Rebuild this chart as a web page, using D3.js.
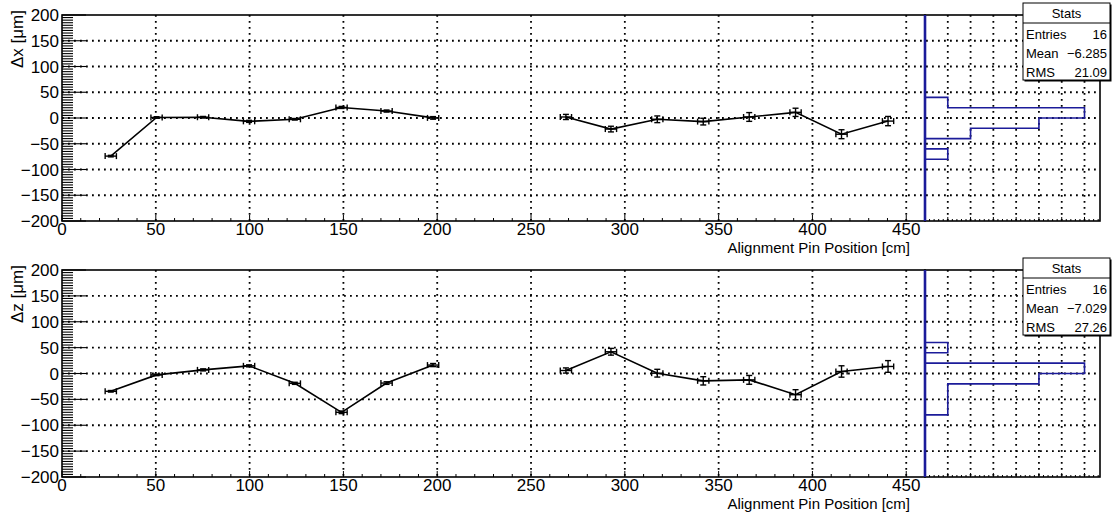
<!DOCTYPE html>
<html>
<head>
<meta charset="utf-8">
<script src="https://cdn.jsdelivr.net/npm/d3@7"></script>
<style>
  body { margin: 0; background: #fff; }
  svg text { font-family: "Liberation Sans", Arial, sans-serif; }
</style>
</head>
<body>
<div class="canvas"></div>
<script>
"use strict";

// donnees
var pinPos = [26, 50.4, 75.2, 99.7, 124.1, 149, 173, 197.8, 268.6, 292.6, 317.3, 341.8, 366.3, 391, 415.5, 440.3];
var pinErr = [3, 3, 3, 3, 3, 3, 3, 3, 3, 3, 3, 3, 3, 3, 3, 3];
var groupe = [0, 0, 0, 0, 0, 0, 0, 0, 1, 1, 1, 1, 1, 1, 1, 1];
var dx = [-74, 1, 1.5, -6.5, -2.5, 20.5, 13.5, 0.2, 2, -21.5, -2.5, -7, 2, 11, -31.5, -6];
var dxErr = [1.5, 1.5, 1.5, 2, 1.5, 2, 2, 2.5, 5, 5.5, 6.5, 6.5, 8.5, 8, 8.7, 9];
var dz = [-34.4, -2.7, 7, 14.8, -19, -75, -18.5, 16.3, 5.8, 42, 0.6, -14.2, -12.3, -41, 3.9, 13.6];
var dzErr = [1.5, 1.5, 2, 2, 2, 2.5, 2.5, 3, 5, 6.5, 7.5, 8, 8.5, 9.7, 11, 11.3];
var statsDx = ["16", "\u22126.285", "21.09"];
var statsDz = ["16", "\u22127.029", "27.26"];
var statsNoms = ["Entries", "Mean", "RMS"];
var xTicks = [0, 50, 100, 150, 200, 250, 300, 350, 400, 450];
var yTicks = [-200, -150, -100, -50, 0, 50, 100, 150, 200];

var larg = 1113, haut = 515;
var gauche = 62, droite = 925, histDroite = 1100;
var bleu = "#1c1c9a";

var svg = d3.select(".canvas").append("svg")
  .attr("width", larg)
  .attr("height", haut);

var x = d3.scaleLinear().domain([0, 460]).range([gauche, droite]);
var hx = d3.scaleLinear().domain([0, 7.68]).range([droite, histDroite]);

function panneau(top, bas, vals, errs, titreY, stats) {
  var y = d3.scaleLinear().domain([-200, 200]).range([bas, top]);
  var g = svg.append("g");

  // grille pointillee
  g.selectAll("line.gx").data(xTicks.filter(function(d){ return d > 0; }))
    .enter().append("line")
      .attr("x1", function(d){ return x(d); }).attr("x2", function(d){ return x(d); })
      .attr("y1", top).attr("y2", bas);
  g.selectAll("line.gy").data(yTicks.filter(function(d){ return d > -200 && d < 200; }))
    .enter().append("line")
      .attr("x1", gauche).attr("x2", histDroite)
      .attr("y1", function(d){ return y(d); }).attr("y2", function(d){ return y(d); });
  g.selectAll("line.gh").data(d3.range(1, 8))
    .enter().append("line")
      .attr("x1", function(d){ return hx(d); }).attr("x2", function(d){ return hx(d); })
      .attr("y1", top).attr("y2", bas);
  g.selectAll("line")
    .attr("stroke", "#000")
    .attr("stroke-width", 1.8)
    .attr("stroke-dasharray", "1.8,4.2");

  // graduations axe x
  var xMin = d3.range(0, 461, 10);
  g.selectAll("line.tx").data(xMin).enter().append("line")
    .attr("x1", function(d){ return x(d); }).attr("x2", function(d){ return x(d); })
    .attr("y1", bas)
    .attr("y2", function(d){ return d % 50 === 0 ? bas - 6 : bas - 3; })
    .attr("stroke", "#000").attr("stroke-width", 1);
  // graduations axe y
  var yMin = d3.range(-200, 201, 5);
  g.selectAll("line.ty").data(yMin).enter().append("line")
    .attr("y1", function(d){ return y(d); }).attr("y2", function(d){ return y(d); })
    .attr("x1", gauche)
    .attr("x2", function(d){ return d % 50 === 0 ? gauche + 24 : gauche + 11; })
    .attr("stroke", "#000").attr("stroke-width", 1.1);
  // graduations histo
  g.selectAll("line.th").data(d3.range(0, 7.61, 0.2)).enter().append("line")
    .attr("x1", function(d){ return hx(d); }).attr("x2", function(d){ return hx(d); })
    .attr("y1", bas)
    .attr("y2", function(d, i){ return i % 5 === 0 ? bas - 4 : bas - 2; })
    .attr("stroke", "#000").attr("stroke-width", 1);

  // etiquettes
  g.selectAll("text.lx").data(xTicks).enter().append("text")
    .attr("x", function(d){ return x(d); })
    .attr("y", bas + 14)
    .attr("text-anchor", "middle")
    .attr("font-size", "17px")
    .text(function(d){ return d; });
  g.selectAll("text.ly").data(yTicks).enter().append("text")
    .attr("x", gauche - 3)
    .attr("y", function(d){ return y(d) + 6; })
    .attr("text-anchor", "end")
    .attr("font-size", "17px")
    .text(function(d){ return d < 0 ? "\u2212" + Math.abs(d) : d; });
  g.append("text")
    .attr("x", 910).attr("y", bas + 32)
    .attr("text-anchor", "end")
    .attr("font-size", "15px")
    .text("Alignment Pin Position [cm]");
  g.append("text")
    .attr("transform", "translate(23," + (top - 5) + ") rotate(-90)")
    .attr("text-anchor", "end")
    .attr("font-size", "17px")
    .text(titreY);

  // cadres
  g.append("rect")
    .attr("x", gauche).attr("y", top)
    .attr("width", droite - gauche).attr("height", bas - top)
    .attr("fill", "none").attr("stroke", "#000").attr("stroke-width", 1.6);
  g.append("rect")
    .attr("x", droite).attr("y", top)
    .attr("width", histDroite - droite).attr("height", bas - top)
    .attr("fill", "none").attr("stroke", "#000").attr("stroke-width", 1.6);

  // histogramme horizontal
  var bins = d3.bin().domain([-200, 200]).thresholds(d3.range(-180, 200, 20))(vals);
  var pts = [[hx(0), y(-200)]];
  bins.forEach(function(b){
    pts.push([hx(b.length), y(b.x0)]);
    pts.push([hx(b.length), y(b.x1)]);
  });
  pts.push([hx(0), y(200)]);
  g.append("line")
    .attr("x1", droite).attr("x2", droite).attr("y1", top).attr("y2", bas)
    .attr("stroke", bleu).attr("stroke-width", 2.6);
  g.append("path")
    .attr("d", d3.line()(pts))
    .attr("fill", "none")
    .attr("stroke", bleu)
    .attr("stroke-width", 1.6);

  // points avec barres d'erreur
  var data = pinPos.map(function(p, i){
    return { x: p, ex: pinErr[i], y: vals[i], ey: errs[i], g: groupe[i] };
  });
  var ligne = d3.line().x(function(d){ return x(d.x); }).y(function(d){ return y(d.y); });
  [0, 1].forEach(function(k){
    g.append("path")
      .attr("d", ligne(data.filter(function(d){ return d.g === k; })))
      .attr("fill", "none").attr("stroke", "#000").attr("stroke-width", 1.6);
  });
  var err = g.selectAll("g.err").data(data).enter().append("g")
    .attr("stroke", "#000").attr("stroke-width", 1.4);
  err.append("line")
    .attr("x1", function(d){ return x(d.x - d.ex); }).attr("x2", function(d){ return x(d.x + d.ex); })
    .attr("y1", function(d){ return y(d.y); }).attr("y2", function(d){ return y(d.y); });
  err.append("line")
    .attr("x1", function(d){ return x(d.x); }).attr("x2", function(d){ return x(d.x); })
    .attr("y1", function(d){ return y(d.y - d.ey); }).attr("y2", function(d){ return y(d.y + d.ey); });
  [-1, 1].forEach(function(s){
    err.append("line")
      .attr("x1", function(d){ return x(d.x + s * d.ex); }).attr("x2", function(d){ return x(d.x + s * d.ex); })
      .attr("y1", function(d){ return y(d.y) - 3; }).attr("y2", function(d){ return y(d.y) + 3; });
    err.append("line")
      .attr("x1", function(d){ return x(d.x) - 3; }).attr("x2", function(d){ return x(d.x) + 3; })
      .attr("y1", function(d){ return y(d.y + s * d.ey); }).attr("y2", function(d){ return y(d.y + s * d.ey); });
  });

  // boite de stats
  var bx = 1023, by = top - 12, bw = 87, bh = 77;
  g.append("rect").attr("x", bx + 1.5).attr("y", by + 1.5).attr("width", bw).attr("height", bh).attr("fill", "#000");
  g.append("rect").attr("x", bx).attr("y", by).attr("width", bw).attr("height", bh)
    .attr("fill", "#fff").attr("stroke", "#000").attr("stroke-width", 1);
  g.append("line").attr("x1", bx).attr("x2", bx + bw).attr("y1", by + 20).attr("y2", by + 20)
    .attr("stroke", "#000").attr("stroke-width", 1);
  g.append("text").attr("x", bx + bw / 2).attr("y", by + 15)
    .attr("text-anchor", "middle").attr("font-size", "13px").text("Stats");
  g.selectAll("text.sn").data(statsNoms).enter().append("text")
    .attr("x", bx + 3).attr("y", function(d, i){ return by + 36 + i * 19; })
    .attr("font-size", "13px").text(function(d){ return d; });
  g.selectAll("text.sv").data(stats).enter().append("text")
    .attr("x", bx + bw - 3).attr("y", function(d, i){ return by + 36 + i * 19; })
    .attr("text-anchor", "end").attr("font-size", "13px").text(function(d){ return d; });
}

panneau(15, 221, dx, dxErr, "\u0394x [\u03bcm]", statsDx);
panneau(270, 477, dz, dzErr, "\u0394z [\u03bcm]", statsDz);
</script>
</body>
</html>
